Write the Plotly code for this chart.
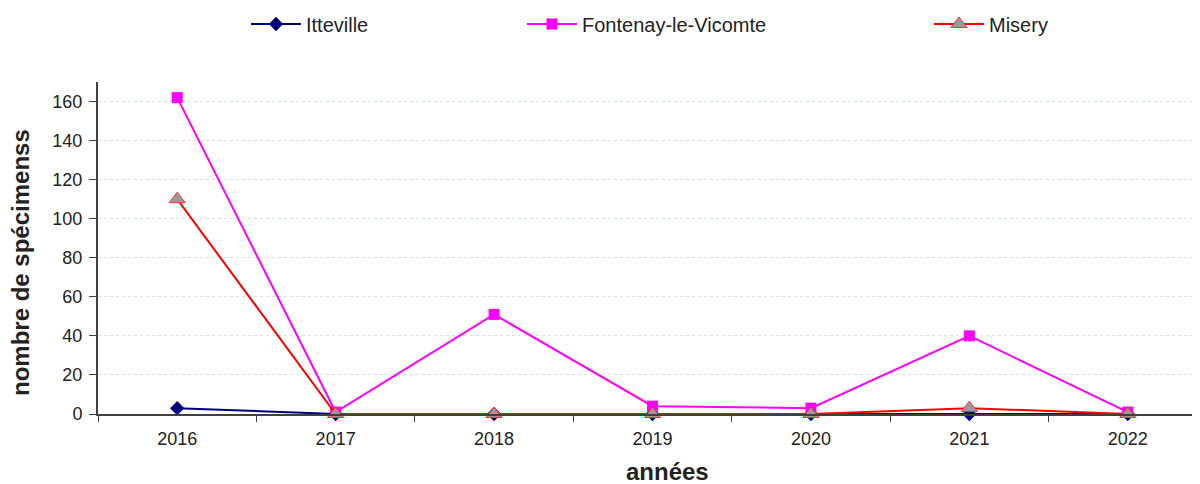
import plotly.graph_objects as go

years = ["2016", "2017", "2018", "2019", "2020", "2021", "2022"]
itteville = [3, 0, 0, 0, 0, 0, 0]
fontenay = [162, 1, 51, 4, 3, 40, 1]
misery = [110, 0, 0, 0, 0, 3, 0]

fig = go.Figure()
fig.add_trace(go.Scatter(x=years, y=itteville, name="Itteville", mode="lines+markers",
                         line=dict(color="#000080", width=2), cliponaxis=False,
                         marker=dict(symbol="diamond", size=11, color="#000080"),
                         legend="legend", showlegend=True))
fig.add_trace(go.Scatter(x=years, y=fontenay, name="Fontenay-le-Vicomte", mode="lines+markers",
                         line=dict(color="#FF00FF", width=2), cliponaxis=False,
                         marker=dict(symbol="square", size=11, color="#FF00FF"),
                         legend="legend2", showlegend=True))
fig.add_trace(go.Scatter(x=years, y=misery, name="Misery", mode="lines+markers",
                         line=dict(color="#FF0000", width=2), cliponaxis=False,
                         marker=dict(symbol="triangle-up", size=14, color="#999999",
                                     line=dict(color="#FF3030", width=1)),
                         legend="legend3", showlegend=True))

leg_common = dict(orientation="h", xref="container", yref="container", yanchor="middle",
                  y=1 - 16 / 484, bgcolor="rgba(0,0,0,0)", itemwidth=50, visible=True,
                  font=dict(family="Liberation Sans, Arial", size=20, color="#222222"))
fig.update_layout(
    width=1200, height=484,
    showlegend=True,
    margin=dict(l=90, r=1, t=74, b=78, autoexpand=False),
    plot_bgcolor="white", paper_bgcolor="white",
    font=dict(family="Liberation Sans, Arial", size=18, color="#222222"),
    legend=dict(x=238 / 1200, **leg_common),
    legend2=dict(x=514 / 1200, **leg_common),
    legend3=dict(x=921 / 1200, **leg_common),
    xaxis=dict(type="category", range=[-0.5, 6.5], showgrid=False, automargin=False,
               showline=True, linecolor="#404040", linewidth=2,
               ticks="outside", ticklen=6, tickcolor="#404040", tickson="boundaries",
               ticklabelstandoff=7,
               tickfont=dict(size=18, color="#222222")),
    yaxis=dict(range=[0, 170], tickvals=[0, 20, 40, 60, 80, 100, 120, 140, 160], automargin=False,
               showgrid=True, gridcolor="#d8e0ee", griddash="dot", gridwidth=1,
               showline=True, linecolor="#404040", linewidth=2, mirror=True,
               ticks="outside", ticklen=7, tickcolor="#404040", ticklabelstandoff=3,
               tickfont=dict(size=18, color="#222222"), zeroline=False),
    annotations=[
        dict(text="<b>années</b>", xref="paper", yref="paper", x=(659 - 90) / 1109, y=0,
             yshift=-57, xanchor="center", yanchor="middle", showarrow=False,
             font=dict(size=24, color="#222222")),
        dict(text="<b>nombre de spécimenss</b>", xref="paper", yref="paper", x=0, y=0.5,
             xshift=-78, xanchor="center", yanchor="middle", textangle=-90, showarrow=False,
             yshift=-15, font=dict(size=24, color="#222222")),
    ],
)
fig.write_html("out.html")
